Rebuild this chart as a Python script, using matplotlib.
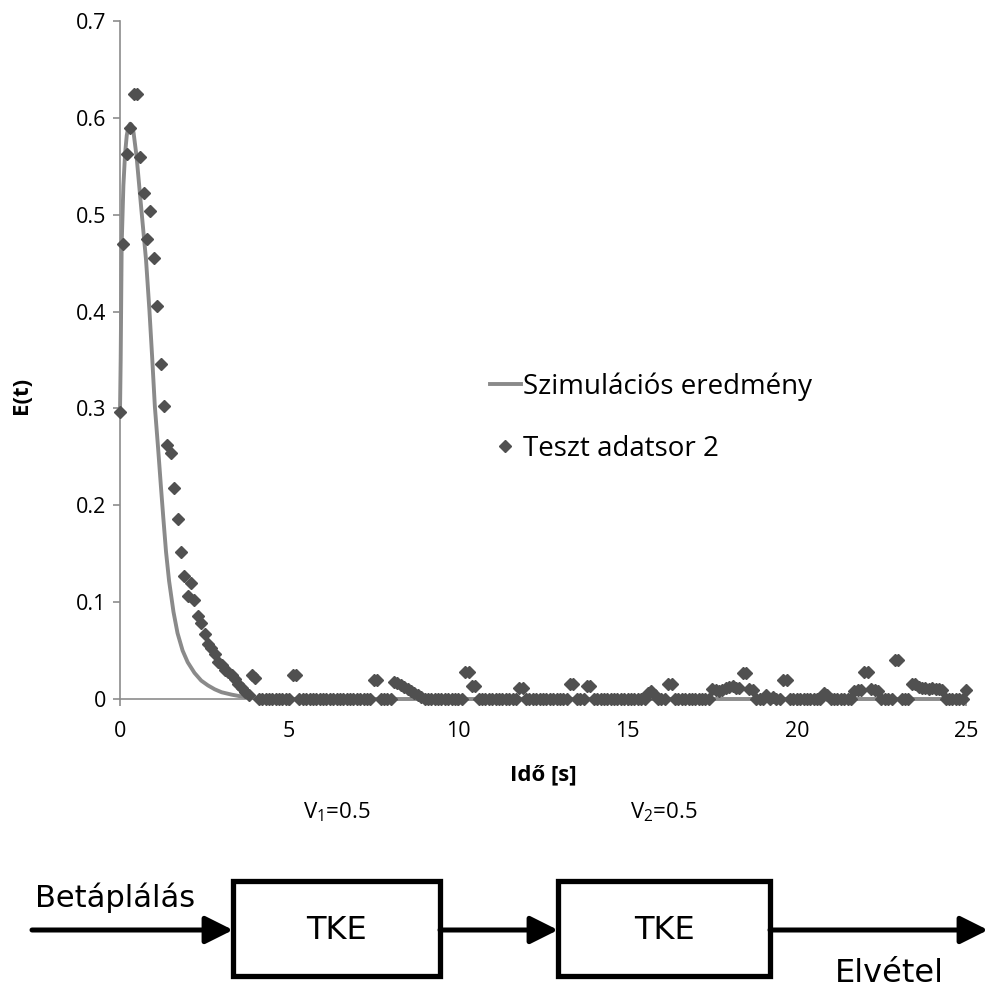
import matplotlib.pyplot as plt
from matplotlib.patches import Rectangle

# Measured residence time distribution, sampled every 0.1 s from 0 to 25 s
t_meas = [i / 10 for i in range(251)]
e_meas = [
    0.296, 0.470, 0.563, 0.590, 0.625, 0.625, 0.560, 0.522, 0.475, 0.504,  # 0.0
    0.455, 0.406, 0.346, 0.302, 0.262, 0.254, 0.218, 0.186, 0.152, 0.127,  # 1.0
    0.106, 0.120, 0.102, 0.086, 0.078, 0.067, 0.057, 0.053, 0.046, 0.038,  # 2.0
    0.035, 0.030, 0.028, 0.025, 0.021, 0.016, 0.011, 0.007, 0.004, 0.025,  # 3.0
    0.022, 0, 0, 0, 0, 0, 0, 0, 0, 0,                                      # 4.0
    0, 0.025, 0.025, 0, 0, 0, 0, 0, 0, 0,                                  # 5.0
    0, 0, 0, 0, 0, 0, 0, 0, 0, 0,                                          # 6.0
    0, 0, 0, 0, 0, 0.020, 0.020, 0, 0, 0,                                  # 7.0
    0, 0.018, 0.017, 0.014, 0.012, 0.010, 0.008, 0.006, 0.004, 0.002,      # 8.0
    0, 0, 0, 0, 0, 0, 0, 0, 0, 0,                                          # 9.0
    0, 0, 0.028, 0.028, 0.013, 0.013, 0, 0, 0, 0,                          # 10.0
    0, 0, 0, 0, 0, 0, 0, 0, 0.011, 0.011,                                  # 11.0
    0, 0, 0, 0, 0, 0, 0, 0, 0, 0,                                          # 12.0
    0, 0, 0, 0.016, 0.016, 0, 0, 0, 0.013, 0.013,                          # 13.0
    0, 0, 0, 0, 0, 0, 0, 0, 0, 0,                                          # 14.0
    0, 0, 0, 0, 0, 0, 0.006, 0.008, 0.004, 0,                              # 15.0
    0, 0, 0.016, 0.016, 0, 0, 0, 0, 0, 0,                                  # 16.0
    0, 0, 0, 0, 0, 0.010, 0.009, 0.008, 0.009, 0.011,                      # 17.0
    0.012, 0.013, 0.011, 0.011, 0.027, 0.027, 0.010, 0.009, 0, 0,          # 18.0
    0, 0.004, 0, 0.002, 0, 0, 0.020, 0.020, 0, 0,                          # 19.0
    0, 0, 0, 0, 0, 0, 0, 0, 0.006, 0.004,                                  # 20.0
    0, 0, 0, 0, 0, 0, 0, 0.008, 0.009, 0.009,                              # 21.0
    0.028, 0.028, 0.010, 0.009, 0.008, 0, 0, 0, 0, 0.040,                  # 22.0
    0.040, 0, 0, 0, 0.015, 0.015, 0.012, 0.011, 0.011, 0.010,              # 23.0
    0.011, 0.010, 0.010, 0.009, 0, 0, 0, 0, 0, 0,                          # 24.0
    0.009,                                                                 # 25.0
]

# Simulated curve (two ideal stirred tanks in series)
t_sim = [0.0, 0.02, 0.05, 0.10, 0.15, 0.20, 0.25, 0.30, 0.34, 0.40, 0.49,
         0.64, 0.77, 0.87, 0.95, 1.03, 1.13, 1.21, 1.28, 1.36, 1.45, 1.58,
         1.70, 1.85, 2.00, 2.20, 2.40, 2.60, 2.80, 3.00, 3.30, 3.60, 4.00,
         4.50, 5.00, 25.0]
e_sim = [0.296, 0.35, 0.47, 0.53, 0.563, 0.582, 0.591, 0.594, 0.593, 0.585,
         0.560, 0.502, 0.453, 0.401, 0.353, 0.302, 0.257, 0.219, 0.187, 0.152,
         0.122, 0.090, 0.068, 0.050, 0.038, 0.027, 0.019, 0.014, 0.010, 0.007,
         0.0045, 0.0025, 0.001, 0.0003, 0.0, 0.0]

x_ticks = [0, 5, 10, 15, 20, 25]
y_ticks = [0, 0.1, 0.2, 0.3, 0.4, 0.5, 0.6, 0.7]
y_tick_labels = ["0", "0.1", "0.2", "0.3", "0.4", "0.5", "0.6", "0.7"]

W, H = 988, 996
fig = plt.figure(figsize=(W / 100, H / 100), dpi=100)
plt.rcParams["font.family"] = ["Open Sans", "DejaVu Sans"]
plt.rcParams["mathtext.fontset"] = "custom"
plt.rcParams["mathtext.rm"] = "Open Sans"
plt.rcParams["mathtext.it"] = "Open Sans:italic"

ax = fig.add_axes([120 / W, 1 - 699 / H, 846 / W, 678 / H])
ax.plot(t_sim, e_sim, color="#8a8a8a", lw=2.8, clip_on=False, zorder=2,
        label="Szimulációs eredmény")
ax.plot(t_meas, e_meas, ls="none", marker="D", ms=6.2, color="#505050",
        clip_on=False, zorder=3, label="Teszt adatsor 2")

ax.set_xlim(0, 25)
ax.set_ylim(0, 0.7)
ax.set_xticks(x_ticks)
ax.set_yticks(y_ticks)
ax.set_yticklabels(y_tick_labels)
for side in ("top", "right"):
    ax.spines[side].set_visible(False)
for side in ("left", "bottom"):
    ax.spines[side].set_color("#8c8c8c")
    ax.spines[side].set_linewidth(1.2)
ax.tick_params(direction="out", length=5, width=1.2, color="#8c8c8c",
               labelsize=15.5)
ax.tick_params(axis="x", pad=11)
ax.tick_params(axis="y", pad=5)
ax.set_xlabel("Idő [s]", fontsize=16, fontweight="bold", labelpad=16)
ax.set_ylabel("E(t)", fontsize=16, fontweight="bold")
ax.yaxis.set_label_coords(-0.104, 0.447)

ax.legend(loc="upper left", bbox_to_anchor=(490 / W, 1 - 372 / H),
          bbox_transform=fig.transFigure, frameon=False, fontsize=20,
          handlelength=1.1, handletextpad=0.1, labelspacing=1.25,
          borderpad=0, borderaxespad=0)

# Block diagram: feed -> tank 1 -> tank 2 -> outlet
dg = fig.add_axes([0, 0, 1, 1])
dg.set_xlim(0, W)
dg.set_ylim(H, 0)
dg.axis("off")
dg.patch.set_alpha(0)

boxes = [(233, 440, "V$_1$=0.5"), (558, 770, "V$_2$=0.5")]
box_top, box_bot, flow_y = 881, 976, 930
for left, right, vol in boxes:
    dg.add_patch(Rectangle((left, box_top), right - left, box_bot - box_top,
                           fill=False, lw=3.8, ec="black"))
    dg.text((left + right) / 2, flow_y, "TKE", ha="center", va="center",
            fontsize=23, family="DejaVu Sans")
    dg.text((left + right) / 2, 812, vol, ha="center", va="center",
            fontsize=16)

arrows = [(32, 233), (440, 558), (770, 988)]
for x0, x1 in arrows:
    dg.annotate("", xy=(x1, flow_y), xytext=(x0, flow_y),
                arrowprops=dict(arrowstyle="-|>", lw=3.6, color="black",
                                mutation_scale=42, shrinkA=0, shrinkB=0))

dg.text(35, 898, "Betáplálás", ha="left", va="center", fontsize=22,
        family="DejaVu Sans")
dg.text(835, 973, "Elvétel", ha="left", va="center", fontsize=23,
        family="DejaVu Sans")

fig.savefig("out.png", dpi=100)
